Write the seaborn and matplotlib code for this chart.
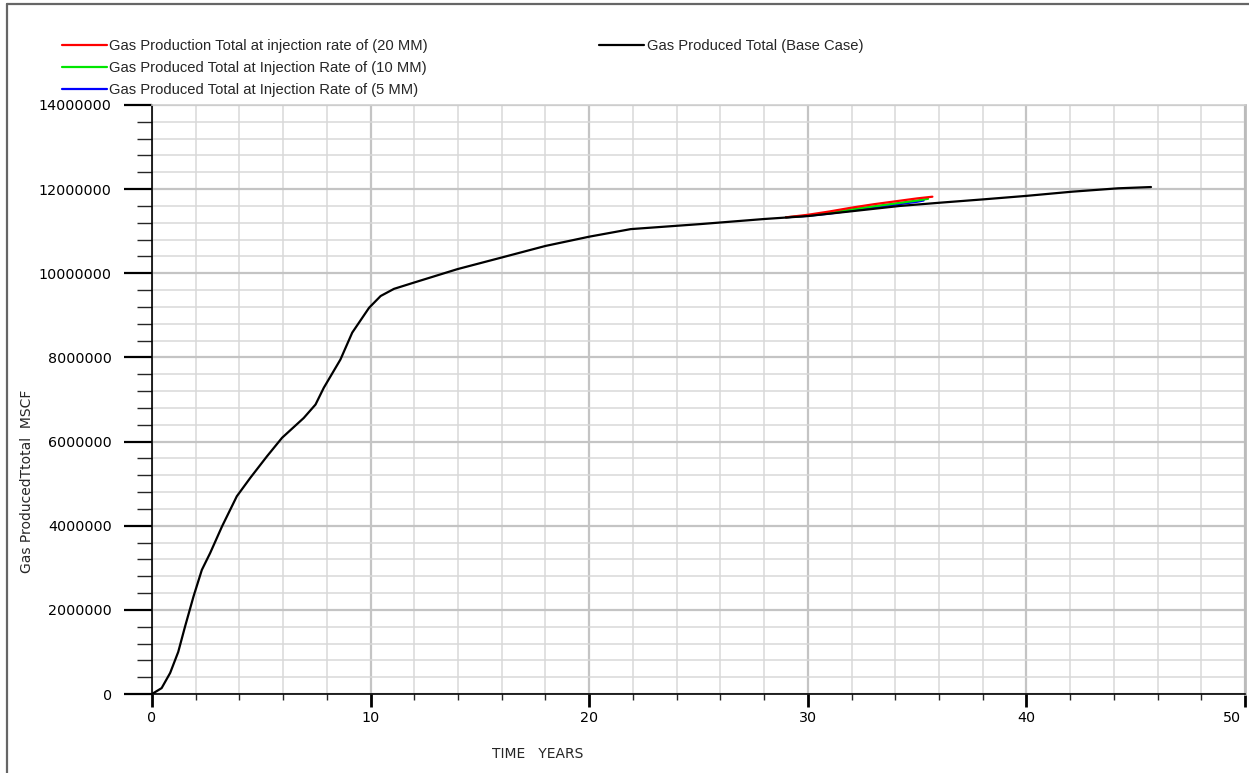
import matplotlib
matplotlib.use("Agg")
import matplotlib.pyplot as plt
from matplotlib.ticker import MultipleLocator, FuncFormatter
from matplotlib.lines import Line2D
import matplotlib.transforms as mtransforms
import seaborn as sns
import pandas as pd

# ---- data ----
base_years = [0, 0.44, 0.83, 1.2, 1.51, 1.9, 2.28, 2.66, 3.2, 3.88, 4.5, 5.26, 5.95,
              6.94, 7.48, 7.86, 8.62, 9.16, 9.93, 10.46, 11.07, 11.99, 13.98, 15.96,
              18.0, 20.0, 21.9, 25.1, 28.0, 30.0, 32.1, 34.2, 36.1, 38.1, 40.0, 42.1,
              44.2, 45.7]
base_gas = [0, 140000, 500000, 1000000, 1600000, 2320000, 2950000, 3350000, 3980000,
            4700000, 5140000, 5650000, 6090000, 6560000, 6880000, 7280000, 7950000,
            8590000, 9180000, 9460000, 9630000, 9780000, 10100000, 10370000, 10650000,
            10870000, 11050000, 11170000, 11290000, 11360000, 11480000, 11600000,
            11680000, 11760000, 11840000, 11940000, 12020000, 12050000]

inj20_years = [29.0, 30.0, 31.0, 32.0, 33.0, 34.0, 35.0, 35.7]
inj20_gas = [11330000, 11390000, 11470000, 11560000, 11640000, 11710000, 11780000, 11820000]

inj10_years = [29.0, 30.0, 31.0, 32.0, 33.0, 34.0, 35.0, 35.5]
inj10_gas = [11330000, 11370000, 11430000, 11520000, 11590000, 11660000, 11730000, 11770000]

inj5_years = [29.0, 30.0, 31.0, 32.0, 33.0, 34.0, 35.0, 35.3]
inj5_gas = [11330000, 11365000, 11420000, 11490000, 11560000, 11630000, 11700000, 11730000]

x_ticks = [0, 10, 20, 30, 40, 50]
y_ticks = [0, 2000000, 4000000, 6000000, 8000000, 10000000, 12000000, 14000000]

labels = ["Gas Production Total at injection rate of (20 MM)",
          "Gas Produced Total at Injection Rate of (10 MM)",
          "Gas Produced Total at Injection Rate of (5 MM)",
          "Gas Produced Total (Base Case)"]
colors = ["#ff0000", "#00e600", "#0000ff", "#000000"]

sns.set_style("white")
plt.rcParams['font.family'] = ['DejaVu Sans']

W, H = 1249, 773
fig = plt.figure(figsize=(W / 100, H / 100), dpi=100)
ax = fig.add_axes([152 / W, (H - 694) / H, (1245 - 152) / W, (694 - 105) / H])

series = [(inj5_years, inj5_gas, colors[2], labels[2]),
          (inj10_years, inj10_gas, colors[1], labels[1]),
          (inj20_years, inj20_gas, colors[0], labels[0]),
          (base_years, base_gas, colors[3], labels[3])]
handles = {}
for xs, ys, c, lab in series:
    df = pd.DataFrame({"t": xs, "g": ys})
    sns.lineplot(data=df, x="t", y="g", color=c, lw=1.6, ax=ax, label=lab,
                 estimator=None, sort=False)
    handles[lab] = ax.lines[-1]
ax.get_legend().remove()

ax.set_xlim(0, 50)
ax.set_ylim(0, 14000000)
ax.set_xticks(x_ticks)
ax.set_xticklabels([str(v) for v in x_ticks])
ax.set_yticks(y_ticks)
ax.set_yticklabels([str(v) for v in y_ticks])
ax.xaxis.set_minor_locator(MultipleLocator(2))
ax.yaxis.set_minor_locator(MultipleLocator(400000))

ax.grid(True, which="major", color="#c4c4c4", lw=1.6, zorder=0)
ax.grid(True, which="minor", color="#d8d8d8", lw=1.1, zorder=0)
ax.set_axisbelow(True)

for s in ["left", "bottom"]:
    ax.spines[s].set_color("black")
    ax.spines[s].set_linewidth(1.2)
ax.spines["top"].set_color("#d0d0d0")
ax.spines["top"].set_linewidth(1.2)
ax.spines["right"].set_color("#bbbbbb")
ax.spines["right"].set_linewidth(2.0)

ax.tick_params(axis="y", which="major", direction="out", length=20, width=1.6,
               pad=9, labelsize=10.3, colors="black", left=True)
ax.tick_params(axis="y", which="minor", direction="out", length=10.5, width=1.0,
               left=True)
ax.tick_params(axis="x", which="major", direction="out", length=9.5, width=2.0,
               pad=3, labelsize=10.3, colors="black", bottom=True)
ax.tick_params(axis="x", which="minor", direction="out", length=4.5, width=1.0,
               bottom=True)

last = ax.get_xticklabels()[-1]
last.set_horizontalalignment("right")
last.set_transform(last.get_transform() +
                   mtransforms.ScaledTranslation(-4 / 100, 0, fig.dpi_scale_trans))

ax.set_xlabel("TIME   YEARS", fontsize=10)
ax.xaxis.set_label_coords((538 - 152) / 1093, (694 - 747) / 589)
ax.set_ylabel("Gas ProducedTtotal  MSCF", fontsize=10)
ax.yaxis.set_label_coords((34 - 152) / 1093, (694 - 481) / 589)

leg_font = {"family": "Liberation Sans", "size": 10.6}
leg1 = fig.legend([handles[l] for l in labels[:3]], labels[:3], loc="upper left",
                  bbox_to_anchor=(62 / W, 1 - 39 / H), frameon=False, prop=leg_font,
                  handlelength=3.05, handletextpad=0.15, labelspacing=0.55,
                  borderpad=0, borderaxespad=0)
leg2 = fig.legend([handles[labels[3]]], [labels[3]], loc="upper left",
                  bbox_to_anchor=(599 / W, 1 - 39 / H), frameon=False, prop=leg_font,
                  handlelength=3.05, handletextpad=0.2, borderpad=0, borderaxespad=0)
for lg in (leg1, leg2):
    for ln in lg.get_lines():
        ln.set_linewidth(1.6)

# figure border (top and left)
fig.add_artist(Line2D([7 / W, 7 / W], [0, 1 - 4 / H], color="#666666", lw=1.6,
                      transform=fig.transFigure))
fig.add_artist(Line2D([7 / W, 1], [1 - 4 / H, 1 - 4 / H], color="#666666", lw=1.6,
                      transform=fig.transFigure))

fig.savefig("out.png", dpi=100)
